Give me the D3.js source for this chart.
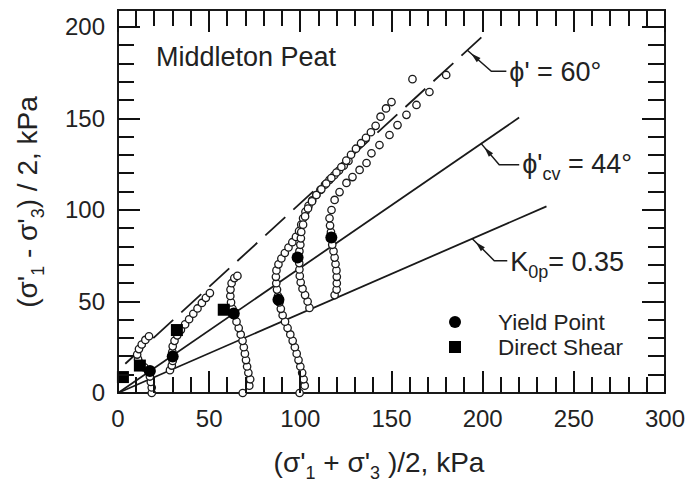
<!DOCTYPE html>
<html>
<head>
<meta charset="utf-8">
<script src="https://cdn.jsdelivr.net/npm/d3@7"></script>
<style>
  body { margin: 0; background: #fff; }
  svg { display: block; font-family: "Liberation Sans", Arial, sans-serif; }
</style>
</head>
<body>
<div id="chart"></div>
<script>
// stress paths, [ (s1'+s3')/2 , (s1'-s3')/2 ] in kPa
const path1 = [[18.5,0],[18.5,3],[18,6],[17.5,9],[16.5,12],[14.5,14],[12.5,16],[11,18.5],[10.5,21],[11.5,24],[13,26.5],[15,29],[17,31]]
const path2 = [[28.5,12.5],[29.5,15],[30,17.5],[30,20],[29.8,22.5],[30,25.5],[31,28.5],[32.5,31.5],[34.5,34.5],[36.8,37.5],[39,40.3],[41.3,43.3],[43.6,46.2],[46,49.2],[48.2,52],[50.4,54.6]]
const path3 = [[68.4,0],[72,4],[72.5,7.5],[71.5,11],[70.8,14.5],[70.2,18],[69.6,21.5],[69,25],[68.3,28.5],[67.3,32],[66.2,35.5],[65,39],[63.8,42.5],[62.8,46],[62,49.5],[61.6,53],[61.7,56.5],[62.3,60],[63.8,62.8],[65.5,64]]
const path4 = [[99.6,0],[102.4,4],[101.8,7.5],[101,11],[100,14.5],[99,18],[98,21.5],[97,25],[95.8,28.5],[94.5,32],[93,35.5],[91.6,39],[90.3,42.5],[89.3,46],[88.5,49.5],[87.8,53],[87.2,56.5],[86.8,60],[86.6,63.5],[86.9,67],[88,70.3],[89.6,73.5],[91.5,76.5],[93.5,79.5],[95.6,82.4],[97.6,85.3],[99.3,88.5],[100.5,92],[101.5,95.5],[102.8,99],[104.5,102.3],[106.5,105.3],[108.7,108.2],[111,111],[113.5,113.8],[116,116.5],[118.6,119],[121.2,121.6],[123.8,124.2],[126.4,126.8]]
const path5 = [[118.8,53.5],[119.9,56.5],[120,60],[120,63.5],[119.8,67],[119.3,70.5],[118.8,74],[118.2,77.5],[117.5,81],[117,84.5],[116.8,88],[116.3,91.5],[116,95.5],[117.1,100],[118.8,105.5],[121.5,109.8],[125.3,114.8],[128.6,118],[132.5,121.9],[136.3,125.7],[139,131],[143.4,135.5],[148.9,141],[153.3,146.4],[158.2,152],[163.7,157.4],[170.8,164.5],[180,173.8]]
const path6 = [[105,46.5],[104,50],[102.6,53.5],[101.2,57],[100.2,60.5],[99.7,64],[99.5,67.5],[99.4,71],[99.5,77.5],[100,81],[100.3,84.5],[100.5,88],[101.5,92],[102.6,96.5],[104.2,100.8],[106.4,104.7],[108.8,108.2],[111.5,111.3],[114.2,114.5],[117,117.5],[119.8,120.5],[122.5,123.5],[125.2,127],[127.8,130.2],[130.5,133.5],[133.3,136.5],[136,139.5],[138.7,142.5],[141.3,146],[144,151],[147,155.5],[150,159],[161.5,171.5]]

const yieldPoints = [[17.5,12],[30,20],[63.5,43.5],[88,51],[98.5,74],[117,85]]
const directShear = [[2.7,8.7],[12,15],[32.3,34.4],[58,45.5]]

// lines
const phi60 = [[4,16],[200,195]]
const phiCv = [[0,0],[220,150.5]]
const k0p = [[0,0],[235,102]]

const xTicks = [0,50,100,150,200,250,300]
const yTicks = [0,50,100,150,200]
const yTop = 209.3

let set_width = 689, set_height = 493;
var margin = {top: 10, right: 24, bottom: 100, left: 118},
    width = set_width - margin.left - margin.right,
    height = set_height - margin.top - margin.bottom;

var svg = d3.select("#chart").append("svg")
  .attr("width", set_width)
  .attr("height", set_height);

var chart = svg.append("g")
  .attr("transform", `translate(${margin.left},${margin.top})`);

var x = d3.scaleLinear().domain([0, 300]).range([0, width]);
var y = d3.scaleLinear().domain([0, yTop]).range([height, 0]);

const ink = "#1a1a1a";
const minorX = d3.range(0, 301, 10);
const minorY = d3.range(0, 201, 10);
const tickLen = v => (v % 50 === 0 ? 22 : 16);
const tw = 2;

// tick labels
chart.append("g").selectAll("text").data(xTicks).join("text")
  .attr("x", d => x(d)).attr("y", height + 34)
  .attr("text-anchor", "middle").attr("font-size", 24).attr("fill", "#222")
  .text(d => d);
chart.append("g").selectAll("text").data(yTicks).join("text")
  .attr("x", -13).attr("y", d => y(d) + 8)
  .attr("text-anchor", "end").attr("font-size", 24).attr("fill", "#222")
  .text(d => d);

// frame
chart.append("rect")
  .attr("x", 0).attr("y", 0)
  .attr("width", width).attr("height", height)
  .attr("fill", "none").attr("stroke", ink).attr("stroke-width", 2);

var line = d3.line().x(d => x(d[0])).y(d => y(d[1]));

chart.append("path").datum(phi60)
  .attr("d", line).attr("fill", "none").attr("stroke", ink)
  .attr("stroke-width", 1.8).attr("stroke-dasharray", "27,11");
[phiCv, k0p].forEach(l => {
  chart.append("path").datum(l)
    .attr("d", line).attr("fill", "none").attr("stroke", ink).attr("stroke-width", 1.8);
});

// open circles
const paths = [path1, path2, path3, path4, path6, path5];
paths.forEach(p => {
  chart.append("g").selectAll("circle")
    .data(p)
    .join("circle")
    .attr("cx", d => x(d[0]))
    .attr("cy", d => y(d[1]))
    .attr("r", 3.7)
    .attr("fill", "#fff")
    .attr("stroke", ink)
    .attr("stroke-width", 1.3);
});

chart.append("g").selectAll("circle")
  .data(yieldPoints)
  .join("circle")
  .attr("cx", d => x(d[0])).attr("cy", d => y(d[1]))
  .attr("r", 6).attr("fill", "#000");

chart.append("g").selectAll("rect")
  .data(directShear)
  .join("rect")
  .attr("x", d => x(d[0]) - 6).attr("y", d => y(d[1]) - 6)
  .attr("width", 12).attr("height", 12).attr("fill", "#000");

// annotations with leaders
function onLine(l, s) {
  let f = (s - l[0][0]) / (l[1][0] - l[0][0]);
  return [s, l[0][1] + f * (l[1][1] - l[0][1])];
}

const notes = [
  {l: phi60, s: 191.6, dx: 24, dy: 21, run: 15, parts: [["ϕ' = 60°", 0]], by: 81},
  {l: phiCv, s: 199.2, dx: 18, dy: 21, run: 20, parts: [["ϕ'", 0], ["cv", 1], [" = 44°", 0]], by: 173},
  {l: k0p, s: 194.3, dx: 22, dy: 22, run: 13, parts: [["K", 0], ["0p", 1], ["= 0.35", 0]], by: 271}
];

notes.forEach(n => {
  let p = onLine(n.l, n.s);
  let ax = x(p[0]), ay = y(p[1]);
  let ex = ax + n.dx, ey = ay + n.dy;
  chart.append("path")
    .attr("d", `M${ax},${ay}L${ex},${ey}L${ex + n.run},${ey}`)
    .attr("fill", "none").attr("stroke", ink).attr("stroke-width", 1.5);
  // arrow head pointing at the line
  let len = Math.hypot(n.dx, n.dy), ux = n.dx / len, uy = n.dy / len;
  let tx = ax + ux * 5, ty = ay + uy * 5;
  let bx = tx + ux * 10, by = ty + uy * 10;
  chart.append("path")
    .attr("d", `M${tx},${ty}L${bx - uy * 2.8},${by + ux * 2.8}L${bx + uy * 2.8},${by - ux * 2.8}Z`)
    .attr("fill", ink);
  let t = chart.append("text")
    .attr("x", ex + n.run + 3).attr("y", n.by - margin.top)
    .attr("font-size", 27).attr("fill", "#222");
  let sub = false;
  n.parts.forEach(pt => {
    let ts = t.append("tspan").text(pt[0]);
    if (pt[1] && !sub) { ts.attr("dy", 7).attr("font-size", 18); sub = true; }
    else if (!pt[1] && sub) { ts.attr("dy", -7); sub = false; }
  });
});

chart.append("text")
  .attr("x", 156 - margin.left).attr("y", 66 - margin.top)
  .attr("font-size", 27).attr("fill", "#222")
  .text("Middleton Peat");

// legend
const legend = chart.append("g").attr("transform", `translate(${455 - margin.left},${322 - margin.top})`);
legend.append("circle").attr("cx", 0).attr("cy", 0).attr("r", 6).attr("fill", "#000");
legend.append("rect").attr("x", -6).attr("y", 19).attr("width", 12).attr("height", 12).attr("fill", "#000");
legend.append("text").attr("x", 43).attr("y", 8).attr("font-size", 22.5).attr("fill", "#222").text("Yield Point");
legend.append("text").attr("x", 43).attr("y", 33).attr("font-size", 22.5).attr("fill", "#222").text("Direct Shear");

// axis titles
const xt = svg.append("text")
  .attr("x", 379).attr("y", 472)
  .attr("text-anchor", "middle").attr("font-size", 28).attr("fill", "#222");
xt.append("tspan").text("(σ'");
xt.append("tspan").attr("dy", 7).attr("font-size", 18).text("1");
xt.append("tspan").attr("dy", -7).text(" + σ'");
xt.append("tspan").attr("dy", 7).attr("font-size", 18).text("3");
xt.append("tspan").attr("dy", -7).text(" )/2, kPa");

const yt = svg.append("text")
  .attr("transform", "translate(37,202) rotate(-90)")
  .attr("text-anchor", "middle").attr("font-size", 28).attr("fill", "#222");
yt.append("tspan").text("(σ'");
yt.append("tspan").attr("dy", 7).attr("font-size", 18).text("1");
yt.append("tspan").attr("dy", -7).text(" - σ'");
yt.append("tspan").attr("dy", 7).attr("font-size", 18).text("3");
yt.append("tspan").attr("dy", -7).text(") / 2, kPa");

// inward ticks on all four sides, drawn last so nothing sits over them
var tg = svg.append("g").attr("transform", `translate(${margin.left},${margin.top})`);
tg.append("g").selectAll("rect").data(minorX).join("rect")
  .attr("x", d => Math.round(x(d)) - tw / 2).attr("width", tw)
  .attr("y", d => height - tickLen(d)).attr("height", d => tickLen(d))
  .attr("fill", "#111");
tg.append("g").selectAll("rect").data(minorX).join("rect")
  .attr("x", d => Math.round(x(d)) - tw / 2).attr("width", tw)
  .attr("y", 0).attr("height", d => tickLen(d))
  .attr("fill", "#111");
tg.append("g").selectAll("rect").data(minorY).join("rect")
  .attr("y", d => Math.round(y(d)) - tw / 2).attr("height", tw)
  .attr("x", 0).attr("width", d => tickLen(d))
  .attr("fill", "#111");
tg.append("g").selectAll("rect").data(minorY).join("rect")
  .attr("y", d => Math.round(y(d)) - tw / 2).attr("height", tw)
  .attr("x", d => width - tickLen(d) - 1).attr("width", d => tickLen(d) + 1)
  .attr("fill", "#111");
</script>
</body>
</html>
